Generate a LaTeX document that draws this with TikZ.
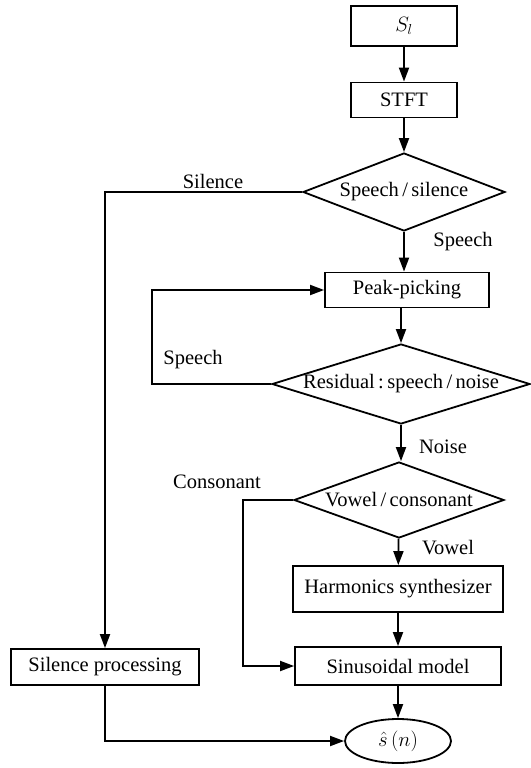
\documentclass[tikz,border=0pt]{standalone}
\usepackage{fontspec}
\setmainfont{Liberation Serif}
\usetikzlibrary{shapes.geometric,arrows.meta}

\begin{document}
\begin{tikzpicture}[x=1pt,y=-1pt,line width=1.8pt,
  font=\fontsize{20.5}{24}\selectfont,
  >={Triangle[length=14pt,width=10pt]},
  blk/.style={draw,rectangle,inner sep=0pt},
  dec/.style={draw,diamond,inner sep=0pt},
  lbl/.style={inner sep=0pt}]
\useasboundingbox (0,0) rectangle (530,768);

\node[blk,minimum width=106,minimum height=40] (sl) at (404,26) {$S_l$};
\node[blk,minimum width=106,minimum height=35] (stft) at (404,100) {STFT};
\node[dec,aspect=2.6,minimum width=202,minimum height=78] (spsil) at (404,192) {Speech\,/\,silence};
\node[blk,minimum width=164,minimum height=35] (peak) at (407,290) {Peak-picking};
\node[dec,aspect=3.2,minimum width=258,minimum height=80] (resid) at (401,384) {Residual\,:\,speech\,/\,noise};
\node[dec,aspect=2.76,minimum width=210,minimum height=76] (vc) at (399,500) {Vowel\,/\,consonant};
\node[blk,minimum width=210,minimum height=46] (harm) at (398,589) {Harmonics synthesizer};
\node[blk,minimum width=206,minimum height=38] (sin) at (398,666) {Sinusoidal model};
\node[blk,minimum width=188,minimum height=36] (silp) at (105,667) {Silence processing};
\node[draw,ellipse,inner sep=0pt,minimum width=106,minimum height=44] (out) at (398,741) {$\hat{s}\,(n)$};

% branch labels
\node[lbl] (lsil) at (213,181) {Silence};
\node[lbl] (lsp1) at (463,242) {Speech};
\node[lbl] (lsp2) at (193,360) {Speech};
\node[lbl] (lnoise) at (443,447) {Noise};
\node[lbl] (lcons) at (217,482) {Consonant};
\node[lbl] (lvow) at (448,548) {Vowel};

\coordinate (loop) at (152,384);
\coordinate (cons) at (243,500);

\draw[->] (sl) -- (stft);
\draw[->] (stft) -- (spsil);
\draw[->] (spsil.south) -- (spsil.south |- peak.north);
\draw[->] (peak.south -| resid.north) -- (resid.north);
\draw[->] (resid.west) -- (loop) |- (peak.west);
\draw[->] (resid.south) -- (resid.south |- vc.north);
\draw[->] (vc) -- (harm);
\draw[->] (harm) -- (sin);
\draw[->] (vc.west) -- (cons) |- (sin.west);
\draw[->] (spsil.west) -| (silp.north);
\draw[->] (sin) -- (out);
\draw[->] (silp.south) |- (out.west);
\end{tikzpicture}
\end{document}
